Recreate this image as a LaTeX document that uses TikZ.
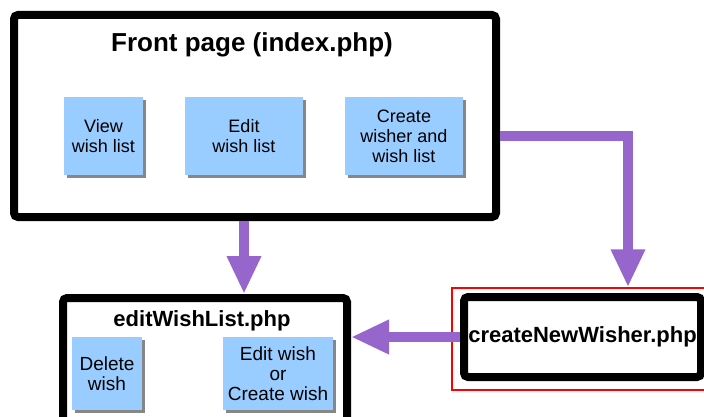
\documentclass[tikz,border=0pt]{standalone}
\usepackage{fontspec}
\setmainfont{Liberation Sans}
\usetikzlibrary{positioning,calc,arrows.meta,shadows}
\definecolor{wishblue}{RGB}{153,204,255}
\definecolor{flowpurple}{RGB}{150,102,204}
\definecolor{shadowgray}{RGB}{135,135,135}

\begin{document}
\begin{tikzpicture}[x=1pt,y=-1pt,
  page/.style={draw,line width=8pt,rounded corners=4pt,fill=white,inner sep=0pt},
  task/.style={fill=wishblue,align=center,inner sep=0pt,
    drop shadow={shadow xshift=3pt,shadow yshift=-3pt,fill=shadowgray,opacity=1},
    font=\fontsize{18}{20}\selectfont},
  flow/.style={draw=flowpurple,line width=10pt,-{Triangle[length=38pt,width=32pt]}}]
\useasboundingbox (0,0) rectangle (704,417);
\clip (0,0) rectangle (704,417);
% front page
\node[page,minimum width=482pt,minimum height=202pt] (front) at (255,116) {};
\node[font=\bfseries\fontsize{26}{30}\selectfont] (fronttitle) at (252,45) {Front page (index.php)};
\node[task,minimum width=79pt,minimum height=78pt] (view) at (103.5,136) {View\\wish list};
\node[task,minimum width=118pt,minimum height=78pt] (editwl) at (244,136) {Edit\\wish list};
\node[task,minimum width=118pt,minimum height=78pt] (create) at (404,136) {Create\\wisher and\\wish list};
% editWishList.php
\node[page,minimum width=284pt,minimum height=150pt] (editpage) at (205,373) {};
\node[font=\bfseries\fontsize{22}{26}\selectfont] (edittitle) at (202,321) {editWishList.php};
\node[task,font=\fontsize{19}{20}\selectfont,minimum width=70pt,minimum height=73pt]
  (delete) at (107,373.5) {Delete\\wish};
\node[task,font=\fontsize{19}{20}\selectfont,minimum width=110pt,minimum height=73pt]
  (editcreate) at (278,373.5) {Edit wish\\or\\Create wish};
% createNewWisher.php
\node[draw=red,line width=1.5pt,minimum width=320pt,minimum height=102pt,inner sep=0pt]
  (sel) at (612,339) {};
\node[page,minimum width=237pt,minimum height=80pt,font=\bfseries\fontsize{22}{26}\selectfont]
  (wisher) at (582.5,337) {createNewWisher.php};
% flows
\draw[flow] (front.south -| editwl) -- (editpage.north -| editwl);
\draw[flow] (create -| front.east) -| ([xshift=16pt]sel.north);
\draw[flow] (wisher.west) -- (wisher.west -| editpage.east);
\end{tikzpicture}
\end{document}
